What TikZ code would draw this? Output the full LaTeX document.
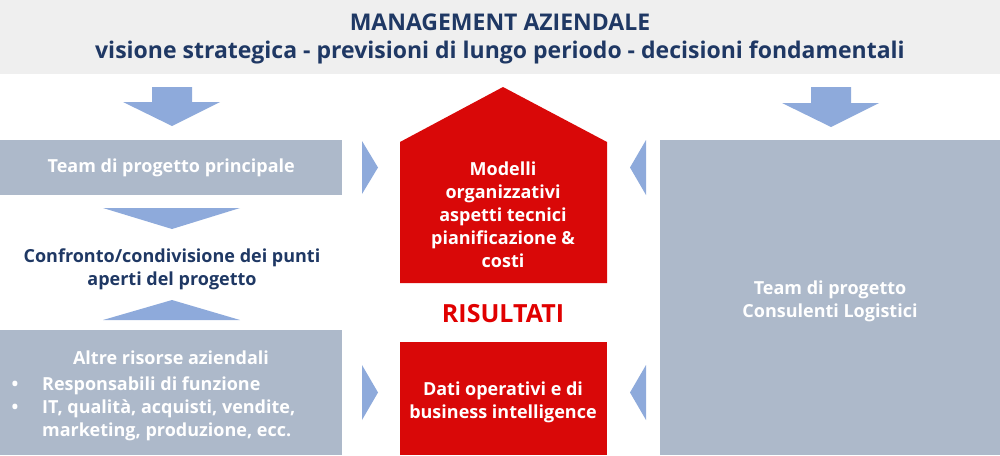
\documentclass[tikz,border=0pt]{standalone}
\usepackage{fontspec}
\setmainfont{Open Sans}
\definecolor{navy}{HTML}{1F3864}
\definecolor{boxgray}{HTML}{ADB9CA}
\definecolor{arrowblue}{HTML}{8EAADB}
\definecolor{redbox}{HTML}{D90808}
\definecolor{redtext}{HTML}{E00000}
\definecolor{banner}{HTML}{EFEFEF}
\begin{document}
\begin{tikzpicture}[x=1pt,y=-1pt,
  graybox/.style={fill=boxgray, draw=none, inner sep=0pt, text=white, font=\bfseries\fontsize{18}{23}\selectfont, align=center},
  redbox/.style={fill=redbox, draw=none, inner sep=0pt, text=white, font=\bfseries\fontsize{18}{23}\selectfont, align=center},
  whitetext/.style={text=white, font=\bfseries\fontsize{18}{23}\selectfont, inner sep=0pt},
  navytext/.style={text=navy, font=\bfseries\fontsize{18}{23}\selectfont, align=center, inner sep=0pt},
  blueshape/.style={fill=arrowblue, draw=none}]
\useasboundingbox (0,0) rectangle (1000,455);
% banner
\node[fill=banner, minimum width=1000pt, minimum height=74pt, inner sep=0pt, anchor=north west] (banner) at (0,0) {};
\node[text=navy, font=\bfseries\fontsize{23}{28}\selectfont, align=center, inner sep=0pt] (title) at (500,39) {MANAGEMENT AZIENDALE\\visione strategica - previsioni di lungo periodo - decisioni fondamentali};
% down arrows
\fill[blueshape] (152,87) -- (192,87) -- (192,102) -- (220,102) -- (172,126) -- (123,102) -- (152,102) -- cycle;
\fill[blueshape] (811,87) -- (851,87) -- (851,103) -- (879,103) -- (831,127) -- (782,103) -- (811,103) -- cycle;
% left column
\node[graybox, minimum width=342pt, minimum height=55pt, anchor=north west] (team) at (0,140) {Team di progetto principale};
\fill[blueshape] (103,208) -- (240,208) -- (172,229) -- cycle;
\node[navytext] (confronto) at (172,269) {Confronto/condivisione dei punti\\aperti del progetto};
\fill[blueshape] (103,320) -- (240,320) -- (172,300) -- cycle;
\node[fill=boxgray, minimum width=342pt, minimum height=125pt, inner sep=0pt, anchor=north west] (altre) at (0,330) {};
\node[whitetext, anchor=base] (altreh) at (171,364) {Altre risorse aziendali};
\node[whitetext, anchor=base] (b1) at (15,390) {•};
\node[whitetext, anchor=base west] (l1) at (42,390) {Responsabili di funzione};
\node[whitetext, anchor=base] (b2) at (15,413) {•};
\node[whitetext, anchor=base west] (l2) at (42,413) {IT, qualità, acquisti, vendite,};
\node[whitetext, anchor=base west] (l3) at (42,436) {marketing, produzione, ecc.};
% right-pointing triangles
\fill[blueshape] (362,141) -- (378,167.5) -- (362,194) -- cycle;
\fill[blueshape] (362,365) -- (378,392.5) -- (362,420) -- cycle;
% left-pointing triangles
\fill[blueshape] (646,140) -- (630,167.5) -- (646,195) -- cycle;
\fill[blueshape] (646,365) -- (630,392.5) -- (646,420) -- cycle;
% red house
\fill[redbox] (400,142) -- (503,87) -- (607,142) -- (607,283) -- (400,283) -- cycle;
\node[whitetext, align=center] (modelli) at (503,215) {Modelli\\organizzativi\\aspetti tecnici\\pianificazione \&\\costi};
\node[text=redtext, font=\bfseries\fontsize{25}{28}\selectfont, inner sep=0pt] (risultati) at (503,314) {RISULTATI};
\node[redbox, minimum width=207pt, minimum height=113pt, anchor=north west] (dati) at (400,342) {};
\node[whitetext, align=center] (datit) at (503,402) {Dati operativi e di\\business intelligence};
% right box
\node[graybox, minimum width=340pt, minimum height=315pt, anchor=north west] (consulenti) at (660,140) {};
\node[whitetext, align=center] (consulentit) at (830,301) {Team di progetto\\Consulenti Logistici};
\end{tikzpicture}
\end{document}
